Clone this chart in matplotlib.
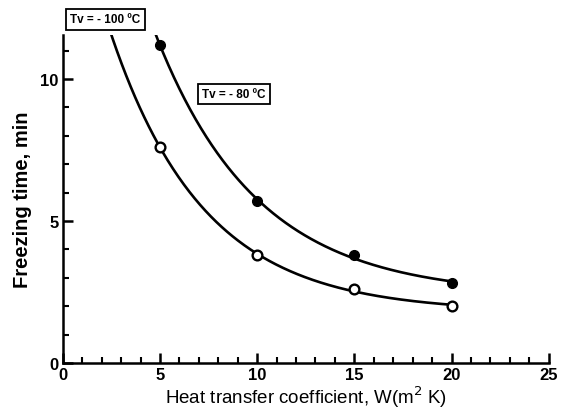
import numpy as np
import matplotlib
matplotlib.use("Agg")
import matplotlib.pyplot as plt
from matplotlib.ticker import MultipleLocator

plt.rcParams['font.family'] = ['Liberation Sans', 'DejaVu Sans']

# Data
h = [5, 10, 15, 20]
t_filled = [11.2, 5.7, 3.8, 2.8]
t_open = [7.6, 3.8, 2.6, 2.0]
label_filled = "Tv = - 80 ºC"
label_open = "Tv = - 100 ºC"
xlabel = "Heat transfer coefficient, W(m$^2$ K)"
ylabel = "Freezing time, min"


def fit_curve(x, y):
    """Least squares fit y = a + b*exp(-c x) (grid over c)."""
    x = np.asarray(x, float)
    y = np.asarray(y, float)
    best = None
    for c in np.linspace(0.02, 1.0, 981):
        A = np.column_stack([np.ones_like(x), np.exp(-c * x)])
        coef, *_ = np.linalg.lstsq(A, y, rcond=None)
        r = np.sum((A @ coef - y) ** 2)
        if best is None or r < best[0]:
            best = (r, c, coef)
    _, c, (a, b) = best
    return lambda xx: a + b * np.exp(-c * xx)


fig = plt.figure(figsize=(5.71, 4.14), dpi=100)
ax = fig.add_axes([0.110, 0.121, 0.851, 0.792])

xs = np.linspace(1.5, 20, 400)
f_filled = fit_curve(h, t_filled)
f_open = fit_curve(h, t_open)
ax.plot(xs, f_filled(xs), color='black', lw=1.9, zorder=2)
ax.plot(xs, f_open(xs), color='black', lw=1.9, zorder=2)

ax.plot(h, t_filled, 'o', ms=7, mfc='black', mec='black', zorder=3, clip_on=False)
ax.plot(h, t_open, 'o', ms=7, mfc='white', mec='black', mew=1.7, zorder=3, clip_on=False)

ax.set_xlim(0, 25)
ax.set_ylim(0, 11.55)
ax.xaxis.set_major_locator(MultipleLocator(5))
ax.xaxis.set_minor_locator(MultipleLocator(1))
ax.yaxis.set_major_locator(MultipleLocator(5))
ax.yaxis.set_minor_locator(MultipleLocator(1))

for s in ['top', 'right']:
    ax.spines[s].set_visible(False)
for s in ['left', 'bottom']:
    ax.spines[s].set_linewidth(1.8)

ax.tick_params(which='major', direction='in', length=7, width=1.8, labelsize=12, pad=3)
ax.tick_params(which='minor', direction='in', length=4, width=1.5)
for lab in ax.get_xticklabels() + ax.get_yticklabels():
    lab.set_fontweight('bold')

ax.set_xlabel(xlabel, fontsize=13.5, labelpad=1)
ax.set_ylabel(ylabel, fontsize=14.5, fontweight='bold', labelpad=6)

box = dict(boxstyle='square,pad=0.35', fc='white', ec='black', lw=1.3)
ax.text(2.2, 12.1, label_open, fontsize=8.5, fontweight='bold', ha='center', va='center',
        bbox=box, clip_on=False)
ax.text(8.8, 9.47, label_filled, fontsize=8.5, fontweight='bold', ha='center', va='center',
        bbox=box)

fig.savefig("out.png", dpi=100)
